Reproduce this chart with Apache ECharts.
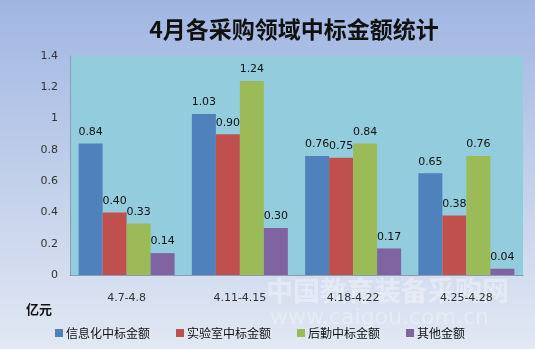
<!DOCTYPE html>
<html><head><meta charset="utf-8">
<script src="https://cdn.jsdelivr.net/npm/echarts@6/dist/echarts.min.js"></script>
<style>html,body{margin:0;padding:0;}#c{width:535px;height:349px;}</style>
</head><body><div id="c"></div>
<script>
const categories = ['4.7-4.8', '4.11-4.15', '4.18-4.22', '4.25-4.28'];
const seriesNames = ['信息化中标金额', '实验室中标金额', '后勤中标金额', '其他金额'];
const infoValues = [0.84, 1.03, 0.76, 0.65];
const labValues = [0.40, 0.90, 0.75, 0.38];
const logisticsValues = [0.33, 1.24, 0.84, 0.76];
const otherValues = [0.14, 0.30, 0.17, 0.04];
const yTicks = [0, 0.2, 0.4, 0.6, 0.8, 1, 1.2, 1.4];

const colors = ['#4f81bd', '#c0504d', '#9bbb59', '#8064a2'];
const allValues = [infoValues, labValues, logisticsValues, otherValues];
const font = '"DejaVu Sans", "Noto Sans CJK SC", sans-serif';

const chart = echarts.init(document.getElementById('c'));
chart.setOption({
  animation: false,
  backgroundColor: {
    type: 'linear', x: 0, y: 0, x2: 0, y2: 1,
    colorStops: [{offset: 0, color: '#a0b6e2'}, {offset: 1, color: '#e2e8f3'}]
  },
  title: {
    text: '4月各采购领域中标金额统计',
    left: 289, top: 13, textAlign: 'center',
    textStyle: {fontSize: 23, fontWeight: 'bold', color: '#111', fontFamily: '"Noto Sans CJK SC", sans-serif'}
  },
  grid: {left: 70, right: 12, top: 56, bottom: 74, show: true, backgroundColor: '#93cddd', borderWidth: 0},
  legend: {
    data: seriesNames, left: 50, top: 322, itemWidth: 8, itemHeight: 8, itemGap: 26, icon: 'rect',
    textStyle: {fontSize: 12, color: '#111', fontFamily: '"Noto Sans CJK SC", sans-serif', padding: [0, 0, 0, -2]}
  },
  graphic: [
    {type: 'text', left: 26, top: 303, style: {text: '亿元', font: 'bold 13px "Noto Sans CJK SC", sans-serif', fill: '#111'}},
    {type: 'text', left: 266, top: 277, silent: true, style: {text: '中国教育装备采购网', font: 'bold 27px "Noto Sans CJK SC", sans-serif', fill: 'rgba(255,255,255,0.35)'}},
    {type: 'text', left: 270, top: 307, silent: true, style: {text: 'www.caigou.com.cn', font: '22px "DejaVu Sans", sans-serif', fill: 'rgba(255,255,255,0.3)'}}
  ],
  xAxis: {
    type: 'category', data: categories,
    axisLine: {lineStyle: {color: '#8c9cb0'}},
    axisTick: {show: false},
    axisLabel: {margin: 18, fontSize: 11, color: '#333', fontFamily: font}
  },
  yAxis: {
    type: 'value', min: yTicks[0], max: yTicks[yTicks.length - 1], interval: 0.2,
    axisLine: {show: true, lineStyle: {color: '#8c9cb0'}},
    axisTick: {show: false},
    splitLine: {show: false},
    axisLabel: {margin: 12, fontSize: 11, color: '#333', fontFamily: font, formatter: v => String(parseFloat(v.toFixed(1)))}
  },
  series: seriesNames.map((name, i) => ({
    name, type: 'bar', data: allValues[i], barWidth: 24, barGap: '0%',
    itemStyle: {color: colors[i]},
    label: {show: true, position: 'top', distance: 6, fontSize: 11, color: '#111', fontFamily: font,
      formatter: p => p.value.toFixed(2)}
  }))
});
</script></body></html>
